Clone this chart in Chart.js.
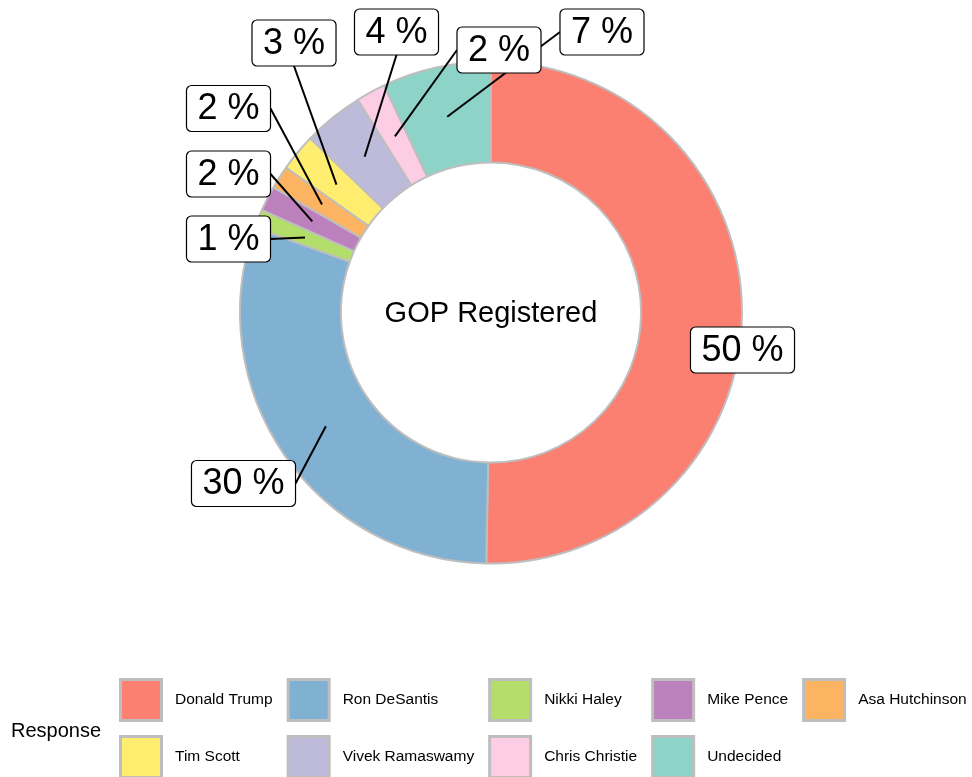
<!DOCTYPE html>
<html>
<head>
<meta charset="utf-8">
<script src="https://cdn.jsdelivr.net/npm/chart.js@4.4.0/dist/chart.umd.min.js"></script>
<style>
html, body { margin: 0; padding: 0; background: #fff; }
</style>
</head>
<body>
<canvas id="donut" width="972" height="777"></canvas>
<script>
// data
const categories = ['Donald Trump', 'Ron DeSantis', 'Nikki Haley', 'Mike Pence', 'Asa Hutchinson',
                    'Tim Scott', 'Vivek Ramaswamy', 'Chris Christie', 'Undecided'];
const shares = [50.3, 30.2, 1.2, 1.6, 1.5, 2.4, 3.9, 1.9, 7.0];
const shareLabels = ['50 %', '30 %', '1 %', '2 %', '2 %', '3 %', '4 %', '2 %', '7 %'];
const colors = ['#FB8072', '#80B1D3', '#B3DE69', '#BC80BD', '#FDB462',
                '#FFED6F', '#BEBADA', '#FCCDE5', '#8DD3C7'];
const centerTitle = 'GOP Registered';
const legendTitle = 'Response';

// label box placement, offset from the donut centre (px), and whether a leader is drawn
const labelOffsets = [[251.5, 37.5], [-247.5, 171], [-262.5, -73.5], [-262.5, -138.5], [-262.5, -204],
                      [-197, -269.5], [-94.5, -280.5], [8, -262.5], [111, -280.5]];
const showLeader = [false, true, true, true, true, true, true, true, true];

const FONT = '"Liberation Sans", Arial, sans-serif';

function roundRect(ctx, x, y, w, h, r) {
    ctx.beginPath();
    ctx.moveTo(x + r, y);
    ctx.lineTo(x + w - r, y);
    ctx.arcTo(x + w, y, x + w, y + r, r);
    ctx.lineTo(x + w, y + h - r);
    ctx.arcTo(x + w, y + h, x + w - r, y + h, r);
    ctx.lineTo(x + r, y + h);
    ctx.arcTo(x, y + h, x, y + h - r, r);
    ctx.lineTo(x, y + r);
    ctx.arcTo(x, y, x + r, y, r);
    ctx.closePath();
}

const labelPlugin = {
    id: 'repelLabels',
    afterDatasetsDraw(chart) {
        const ctx = chart.ctx;
        const arcs = chart.getDatasetMeta(0).data;
        ctx.save();

        // centre title
        const c = arcs[0];
        ctx.fillStyle = '#000';
        ctx.textAlign = 'center';
        ctx.textBaseline = 'middle';
        ctx.font = '29px ' + FONT;
        ctx.fillText(centerTitle, c.x, c.y + 1);
        ctx.font = '36px ' + FONT;

        const boxes = arcs.map((arc, i) => {
            const a = (arc.startAngle + arc.endAngle) / 2;
            const r = (arc.innerRadius + arc.outerRadius) / 2;
            const px = arc.x + Math.cos(a) * r;
            const py = arc.y + Math.sin(a) * r;
            const w = ctx.measureText(shareLabels[i]).width + 22;
            const h = 46;
            const cx = arc.x + labelOffsets[i][0];
            const cy = arc.y + labelOffsets[i][1];
            return { px, py, x: cx - w / 2, y: cy - h / 2, w, h, cx, cy };
        });

        // leaders first, boxes on top
        ctx.strokeStyle = '#000';
        ctx.lineWidth = 2;
        boxes.forEach((b, i) => {
            if (!showLeader[i]) return;
            const mids = [[b.cx, b.y], [b.cx, b.y + b.h], [b.x, b.cy], [b.x + b.w, b.cy]];
            let best = mids[0], bd = Infinity;
            mids.forEach(m => {
                const d = Math.hypot(m[0] - b.px, m[1] - b.py);
                if (d < bd) { bd = d; best = m; }
            });
            ctx.beginPath();
            ctx.moveTo(b.px, b.py);
            ctx.lineTo(best[0], best[1]);
            ctx.stroke();
        });

        ctx.lineWidth = 1.2;
        boxes.forEach((b, i) => {
            roundRect(ctx, b.x, b.y, b.w, b.h, 5);
            ctx.fillStyle = '#fff';
            ctx.fill();
            ctx.stroke();
            ctx.fillStyle = '#000';
            ctx.textAlign = 'center';
            ctx.textBaseline = 'middle';
            ctx.fillText(shareLabels[i], b.cx, b.cy + 1);
        });
        ctx.restore();
    }
};

const legendPlugin = {
    id: 'bottomLegend',
    afterDraw(chart) {
        const ctx = chart.ctx;
        ctx.save();
        ctx.textBaseline = 'middle';
        ctx.textAlign = 'left';
        ctx.fillStyle = '#000';
        ctx.font = '20px ' + FONT;
        ctx.fillText(legendTitle, 11, 731);

        ctx.font = '15.5px ' + FONT;
        const perRow = 5;
        const key = 44;
        const rowY = [678, 735];
        // column width from the widest text in each column
        let x = 119;
        for (let col = 0; col < perRow; col++) {
            let maxW = 0;
            for (let row = 0; row < rowY.length; row++) {
                const i = row * perRow + col;
                if (i >= categories.length) continue;
                maxW = Math.max(maxW, ctx.measureText(categories[i]).width);
                ctx.fillStyle = '#BEBEBE';
                ctx.fillRect(x, rowY[row], key, key);
                ctx.fillStyle = colors[i];
                ctx.fillRect(x + 3, rowY[row] + 3, key - 6, key - 6);
                ctx.fillStyle = '#000';
                ctx.fillText(categories[i], x + 56, rowY[row] + key / 2);
            }
            x += 56 + maxW + 14;
        }
        ctx.restore();
    }
};

new Chart(document.getElementById('donut'), {
    type: 'doughnut',
    data: {
        labels: categories,
        datasets: [{
            data: shares,
            backgroundColor: colors,
            borderColor: '#BEBEBE',
            borderWidth: 2
        }]
    },
    options: {
        responsive: false,
        animation: false,
        devicePixelRatio: 1,
        radius: 251,
        cutout: '59.8%',
        layout: { padding: { left: 10, right: 0, top: 0, bottom: 152 } },
        plugins: {
            legend: { display: false },
            tooltip: { enabled: false }
        }
    },
    plugins: [labelPlugin, legendPlugin]
});
</script>
</body>
</html>
